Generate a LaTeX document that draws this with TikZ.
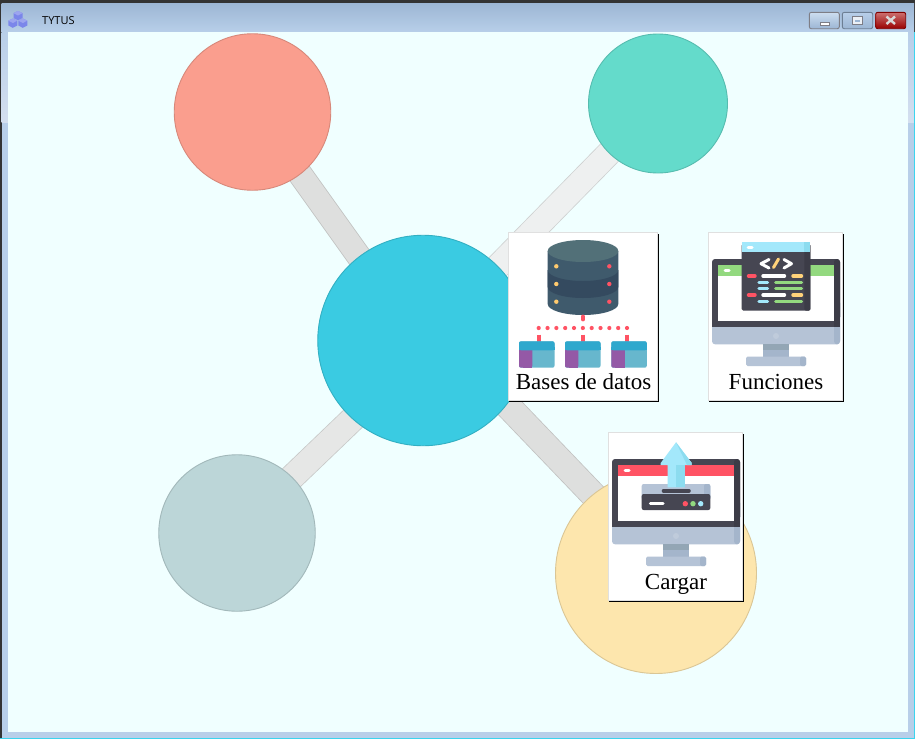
\documentclass[tikz,border=0pt]{standalone}
\usepackage{fontspec}
\newfontfamily\chromefont{Open Sans}
\newfontfamily\cardfont{Liberation Serif}
\usetikzlibrary{backgrounds,shadows}

\definecolor{clientbg}{HTML}{F0FFFF}
\definecolor{framebg}{HTML}{B8CFE9}
\definecolor{framehi}{HTML}{9CB6D4}
\definecolor{framelt}{HTML}{D4DFEF}
\definecolor{rimline}{HTML}{3CD4EE}
\definecolor{salmonball}{HTML}{FA9E8E}
\definecolor{tealball}{HTML}{64DBCB}
\definecolor{skyball}{HTML}{3ACBE2}
\definecolor{sageball}{HTML}{BCD6D8}
\definecolor{butterball}{HTML}{FDE6AD}
\definecolor{bonddk}{HTML}{DEDFDE}
\definecolor{bondmid}{HTML}{E6E7E6}
\definecolor{bondlt}{HTML}{EEF0F0}
\definecolor{slate}{HTML}{464652}
\definecolor{slatedk}{HTML}{3C3C47}
\definecolor{silver}{HTML}{B5C3D6}
\definecolor{silverdk}{HTML}{A4B5CB}
\definecolor{standdk}{HTML}{93A6B5}
\definecolor{skyblue}{HTML}{A3E8FB}
\definecolor{skydk}{HTML}{8CDCEF}
\definecolor{leaf}{HTML}{93D97F}
\definecolor{coral}{HTML}{FF5364}
\definecolor{butter}{HTML}{FFD27A}
\definecolor{drum}{HTML}{3F5A6C}
\definecolor{drumdk}{HTML}{344A5F}
\definecolor{drumtop}{HTML}{527078}
\definecolor{tileblue}{HTML}{2FA8CD}
\definecolor{tilelight}{HTML}{67B7CD}
\definecolor{tilepurple}{HTML}{9459A6}
\definecolor{cubeblue}{HTML}{7B86EA}

\tikzset{
  ball/.style={circle,draw=#1!86!black,fill=#1,line width=0.9pt,inner sep=0pt},
  bond/.style={line width=0.8pt,draw=#1!87!black,double=#1,line cap=butt},
  card/.style={rectangle,draw=black!12,fill=white,line width=0.7pt,inner sep=0pt,minimum height=168pt,
    general shadow={fill=black,shadow xshift=1.4pt,shadow yshift=-1.6pt}},
  cardtext/.style={anchor=base,inner sep=0pt,font=\cardfont\fontsize{23}{25}\selectfont},
  bar/.style={line width=3.4pt,line cap=round,draw=#1},
  winbtn/.style={draw=#1,line width=0.9pt,rounded corners=2pt},
}

% monitor shared by two of the cards, drawn in the frame of the Funciones card
\newcommand{\deskscreen}[1]{
  \fill[silver,rounded corners=3pt] (712,300) rectangle (840,344.3);
  \fill[silverdk,rounded corners=3pt] (834,300) rectangle (840,344.3);
  \fill[slate,rounded corners=3pt] (712,259) rectangle (840,320);
  \fill[slate] (712,300) rectangle (840,326.7);
  \fill[slatedk,rounded corners=3pt] (834,259) rectangle (840,320);
  \fill[slatedk] (834,300) rectangle (840,326.7);
  \fill[white] (718.3,265) rectangle (834,321);
  \fill[#1] (718.3,265) rectangle (834,275.7);
  \draw[bar=white,line width=3pt] (725,270.6) -- (729,270.6);
  \fill[silverdk!70!white] (776,336) circle (3);
  \fill[silverdk] (763,344.3) rectangle (789,356.7);
  \fill[standdk] (763,344.3) rectangle (789,350);
  \fill[silver,rounded corners=1.5pt] (746,356.7) rectangle (806,366);
  \fill[silverdk,rounded corners=1.5pt] (800,356.7) rectangle (806,366);
}

\begin{document}
\begin{tikzpicture}[x=1pt,y=-1pt]
\useasboundingbox (0,0) rectangle (915,739);

% Circles
\node[ball=salmonball,minimum size=156.5pt] (redball) at (252.5,112) {};
\node[ball=tealball,minimum size=139pt] (greenball) at (658,103.5) {};
\node[ball=skyball,minimum size=210.5pt] (hub) at (423,340.5) {};
\node[ball=sageball,minimum size=156.5pt] (greyball) at (237,533) {};
\node[ball=butterball,minimum size=201pt] (yellowball) at (656,573) {};

% Ends of the bars, hidden under the circles
\coordinate (redpin) at (270,132);
\coordinate (hubred) at (400,314);
\coordinate (greenpin) at (640,121.5);
\coordinate (hubgreen) at (450,315.3);
\coordinate (greypin) at (260,507.9);
\coordinate (hubgrey) at (400,373.6);
\coordinate (yellowpin) at (640,543.7);
\coordinate (hubyellow) at (480,376.8);

% Window and connecting bars
\begin{scope}[on background layer]
  \fill[black!80] (0,0) rectangle (915,739);
  \fill[framebg] (1.5,3) rectangle (914.2,738);
  \shade[top color=framehi,bottom color=framebg] (1.5,3) rectangle (914.2,32);
  \shade[top color=framebg,bottom color=framelt] (1.5,32) rectangle (914.2,122);
  \fill[clientbg] (8,32) rectangle (908,732);
  \fill[rimline] (0,738) rectangle (915,739);
  \fill[rimline] (914.2,32) rectangle (915,739);
  \draw[bond=bonddk,double distance=23.4pt] (redpin) -- (hubred);
  \draw[bond=bondlt,double distance=24pt] (greenpin) -- (hubgreen);
  \draw[bond=bondmid,double distance=24.4pt] (greypin) -- (hubgrey);
  \draw[bond=bonddk,double distance=25pt] (yellowpin) -- (hubyellow);
\end{scope}

% Title bar
\foreach \cx/\cy in {18/15.5,12.8/23,22.8/23} {
  \fill[cubeblue] (\cx,\cy-4.5) -- (\cx+4.5,\cy-2.3) -- (\cx+4.5,\cy+2.5) -- (\cx,\cy+4.8)
    -- (\cx-4.5,\cy+2.5) -- (\cx-4.5,\cy-2.3) -- cycle;
  \fill[cubeblue!75!white] (\cx,\cy-4.5) -- (\cx+4.5,\cy-2.3) -- (\cx,\cy) -- (\cx-4.5,\cy-2.3) -- cycle;
}
\node[anchor=base west,inner sep=0pt,font=\chromefont\fontsize{11}{13}\selectfont] (title) at (42,24) {TYTUS};
\shade[winbtn=slate!70,top color=framebg!70!white,bottom color=framehi] (809.3,12.3) rectangle (839.3,28.7);
\fill[white,draw=slate!70,line width=0.5pt] (820,22.5) rectangle (829,25.5);
\shade[winbtn=framehi!70!black,top color=framebg,bottom color=framehi] (842.3,12.3) rectangle (872.7,28.7);
\draw[slate!70,fill=white!80!framehi,line width=0.8pt] (852.5,16.5) rectangle (862,24);
\fill[framehi] (855,19.5) rectangle (859.5,22);
\shade[winbtn=black!50!red,top color=red!45!white!80!black,bottom color=red!60!black] (875.7,12.3) rectangle (905.7,28.7);
\draw[white!85!black,line width=2.4pt] (886.5,16.5) -- (895,24) (895,16.5) -- (886.5,24);

% Cards
\node[card,minimum width=149.3pt] (datacard) at (582.7,316.3) {};
\node[card,minimum width=134.7pt] (funccard) at (775.3,316.3) {};
\node[card,minimum width=134.7pt] (loadcard) at (675.3,516.3) {};

% Database icon
\fill[drum] (547.7,251) -- (547.7,304) arc[start angle=180,end angle=0,x radius=35.3,y radius=11] -- (618.3,251) -- cycle;
\fill[drumdk] (547.7,270) arc[start angle=180,end angle=0,x radius=35.3,y radius=11] -- (618.3,287)
  arc[start angle=0,end angle=180,x radius=35.3,y radius=11] -- cycle;
\fill[drumtop] (583,251) ellipse (35.3 and 11);
\foreach \dy in {266.3,284,301.7} {
  \fill[butter!90!orange] (556.3,\dy) circle (2.2);
  \fill[coral] (609.3,\dy) circle (2.2);
}
\draw[bar=coral,line width=3.8pt] (583,316.5) -- (583,319.5);
\foreach \dx in {0,...,10} \fill[coral] (538.7+\dx*8.83,328) circle (2.1);
\foreach \tx/\sx in {519/538.7,565/583,611.3/627} {
  \draw[bar=coral,line width=3.8pt,line cap=butt] (\sx,334.5) -- (\sx,342);
  \fill[tilelight,rounded corners=2pt] (\tx,341.3) rectangle ++(35.5,26.4);
  \fill[tilepurple,rounded corners=2pt] (\tx,348) rectangle ++(13.3,19.7);
  \fill[tilepurple] (\tx+4,348) rectangle (\tx+13.3,367.7);
  \fill[tileblue,rounded corners=2pt] (\tx,341.3) rectangle ++(35.5,9);
  \fill[tileblue] (\tx,347) rectangle ++(35.5,3.3);
}
\node[cardtext] (datalabel) at (583.5,389.5) {Bases de datos};

% Code icon
\deskscreen{leaf}
\fill[slate,rounded corners=1.5pt] (741.7,244) rectangle (810.3,310.7);
\fill[slatedk,rounded corners=1.5pt] (804.3,244) rectangle (810.3,310.7);
\fill[skyblue] (741.7,242.3) rectangle (810.3,252.3);
\fill[skydk] (804.3,242.3) rectangle (810.3,252.3);
\draw[bar=white,line width=3pt] (748,247.3) -- (752,247.3);
\draw[white,line width=3pt,line join=round,line cap=round] (769,259.5) -- (761,263.7) -- (769,268);
\draw[white,line width=3pt,line join=round,line cap=round] (784,259.5) -- (791.5,263.7) -- (784,268);
\draw[bar=butter,line width=3pt] (773.5,267.5) -- (778.5,259);
\foreach \ry in {276,295} {
  \draw[bar=coral] (748.5,\ry) -- (755,\ry);
  \draw[bar=white] (763,\ry) -- (784.5,\ry);
  \draw[bar=butter] (793,\ry) -- (801.5,\ry);
}
\foreach \ry in {282.3,288.7,301.7} {
  \draw[bar=skyblue] (759,\ry) -- (767.5,\ry);
  \draw[bar=leaf] (775.7,\ry) -- (801.5,\ry);
}
\node[cardtext] (funclabel) at (776,389.5) {Funciones};

% Upload icon
\begin{scope}[shift={(-100,200)}]
  \deskscreen{coral}
\end{scope}
\fill[silver,rounded corners=2pt] (641.7,484) rectangle (710.3,500);
\fill[silverdk,rounded corners=2pt] (704,484) rectangle (710.3,500);
\fill[slate,rounded corners=2pt] (641.7,494) rectangle (710.3,510);
\fill[slate] (641.7,496.7) rectangle (710.3,500);
\draw[bar=slate,line width=3.6pt] (663.5,490.7) -- (689,490.7);
\fill[skyblue] (676,442.3) -- (691.7,463) -- (691.7,465) -- (684.7,465) -- (684.7,487.3) -- (667.7,487.3) -- (667.7,465) -- (660.7,465) -- (660.7,463) -- cycle;
\fill[skydk] (676,465) rectangle (684.7,487.3);
\fill[skydk] (676,442.3) -- (691.7,463) -- (691.7,465) -- (687,465) -- cycle;
\draw[bar=white] (650.5,503.7) -- (663,503.7);
\fill[coral] (685.3,503.7) circle (2.7);
\fill[leaf] (693,503.7) circle (2.7);
\fill[skyblue] (700.7,503.7) circle (2.7);
\node[cardtext] (loadlabel) at (676,589.5) {Cargar};

\end{tikzpicture}
\end{document}
